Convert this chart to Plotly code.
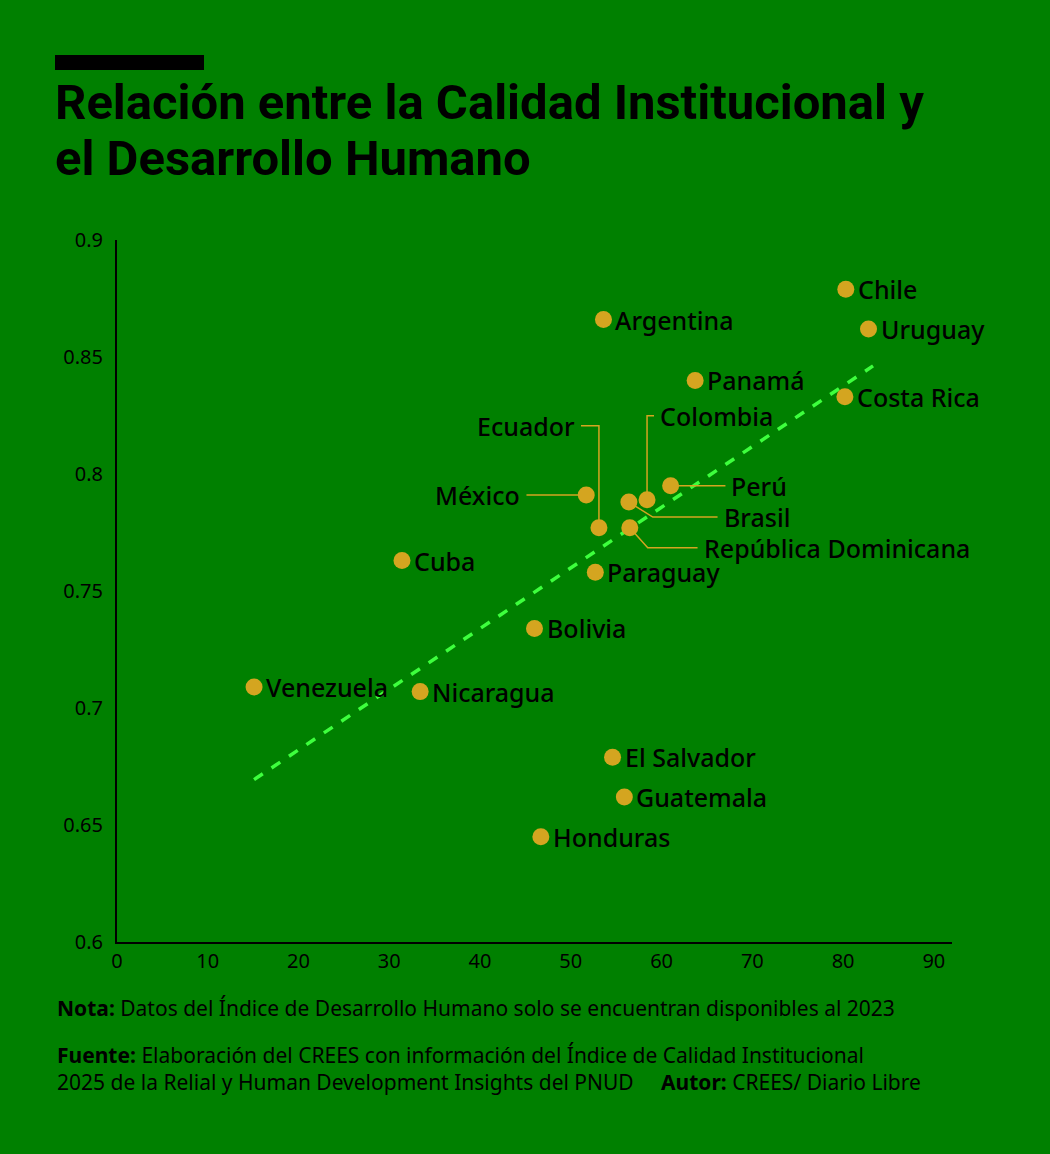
import numpy as np
import plotly.graph_objects as go

paises = ["Chile", "Uruguay", "Argentina", "Panamá", "Costa Rica", "Ecuador", "México",
          "Colombia", "República Dominicana", "Brasil", "Perú", "Cuba", "Paraguay",
          "Bolivia", "Venezuela", "Nicaragua", "El Salvador", "Guatemala", "Honduras"]
calidad = [80.3, 82.8, 53.6, 63.7, 80.2, 53.1, 51.7, 58.4, 56.5, 56.4, 61.0, 31.4, 52.7,
           46.0, 15.1, 33.4, 54.6, 55.9, 46.7]
idh = [0.879, 0.862, 0.866, 0.840, 0.833, 0.777, 0.791, 0.789, 0.777, 0.788, 0.795, 0.763,
       0.758, 0.734, 0.709, 0.707, 0.679, 0.662, 0.645]

x = np.array(calidad)
y = np.array(idh)
BG = "#008000"
PX = 1 / 9.11          # data units of x per pixel
PY = 0.05 / 117        # data units of y per pixel
LBL = dict(family="Noto Sans", size=25, color="black", weight=500)

fig = go.Figure()

# trend line
m, b = np.polyfit(x, y, 1)
xt = np.array([x.min(), x.max() + 0.5])
fig.add_trace(go.Scatter(x=xt, y=m * xt + b, mode="lines",
                         line=dict(color="#3dff3d", width=3.5, dash="dash"),
                         hoverinfo="skip"))

# leader lines (pixel offsets from the point: right +, down +)
leaders = {
    "Ecuador": [(0, 0), (0, -102), (-18, -102)],
    "México": [(0, 0), (-60, 0)],
    "Colombia": [(0, 0), (0, -84), (7, -84)],
    "Perú": [(0, 0), (55, 0)],
    "Brasil": [(0, 0), (24, 15), (89, 15)],
    "República Dominicana": [(0, 0), (18, 20), (68, 20)],
}
for nombre, pts in leaders.items():
    i = paises.index(nombre)
    lx = [x[i] + dx * PX for dx, dy in pts]
    ly = [y[i] - dy * PY for dx, dy in pts]
    fig.add_trace(go.Scatter(x=lx, y=ly, mode="lines", line=dict(color="#d4a520", width=1.5),
                             hoverinfo="skip"))
    ex, ey = pts[-1]
    anchor = "right" if ex < 0 else "left"
    fig.add_annotation(x=lx[-1], y=ly[-1], text=nombre, showarrow=False,
                       xanchor=anchor, xshift=-4 if ex < 0 else 4, font=LBL)

fig.add_trace(go.Scatter(x=x, y=y, mode="markers",
                         marker=dict(size=17, color="#d4a520"), hoverinfo="skip"))

for i, nombre in enumerate(paises):
    if nombre in leaders:
        continue
    fig.add_annotation(x=x[i], y=y[i], text=nombre, showarrow=False, xanchor="left",
                       xshift=10, font=LBL)

fig.update_layout(
    width=1050, height=1154, showlegend=False,
    paper_bgcolor=BG, plot_bgcolor=BG,
    margin=dict(l=117, r=98, t=240, b=212),
    font=dict(family="Noto Sans", color="black"),
    xaxis=dict(range=[0, 92], tickvals=list(range(0, 100, 10)), showgrid=False, zeroline=False,
               showline=True, linecolor="black", linewidth=2, ticks="", tickfont=dict(size=20)),
    yaxis=dict(range=[0.6, 0.9], tickvals=[0.6, 0.65, 0.7, 0.75, 0.8, 0.85, 0.9],
               ticktext=["0.6", "0.65", "0.7", "0.75", "0.8", "0.85", "0.9"],
               showgrid=False, zeroline=False, showline=True, linecolor="black",
               linewidth=2, ticks="", tickfont=dict(size=20), ticklabelstandoff=8),
    shapes=[dict(type="rect", xref="paper", yref="paper", x0=-62/835, x1=87/835,
                 y0=1 + 170/702, y1=1 + 185/702, fillcolor="black", line_width=0)],
)

titulo = ["Relación entre la Calidad Institucional y", "el Desarrollo Humano"]
for k, linea in enumerate(titulo):
    fig.add_annotation(xref="paper", yref="paper", x=-64/835, y=1 + (137 - 56 * k)/702,
                       xanchor="left", yanchor="middle", showarrow=False,
                       text=f"<b>{linea}</b>",
                       font=dict(family="Roboto", size=49, color="black", weight=900))
nota = "<b>Nota:</b> Datos del Índice de Desarrollo Humano solo se encuentran disponibles al 2023"
fuente = ("<b>Fuente:</b> Elaboración del CREES con información del Índice de Calidad Institucional<br>"
          "2025 de la Relial y Human Development Insights del PNUD     <b>Autor:</b> CREES/ Diario Libre")
fig.add_annotation(xref="paper", yref="paper", x=-62/835, y=-50/702, xanchor="left",
                   yanchor="top", align="left", showarrow=False, text=nota,
                   font=dict(family="Noto Sans", size=21, color="black"))
fig.add_annotation(xref="paper", yref="paper", x=-62/835, y=-97/702, xanchor="left",
                   yanchor="top", align="left", showarrow=False, text=fuente,
                   font=dict(family="Noto Sans", size=21, color="black"))

fig.write_html("out.html", config={"displayModeBar": False},
               post_script="document.body.style.margin='0';")
